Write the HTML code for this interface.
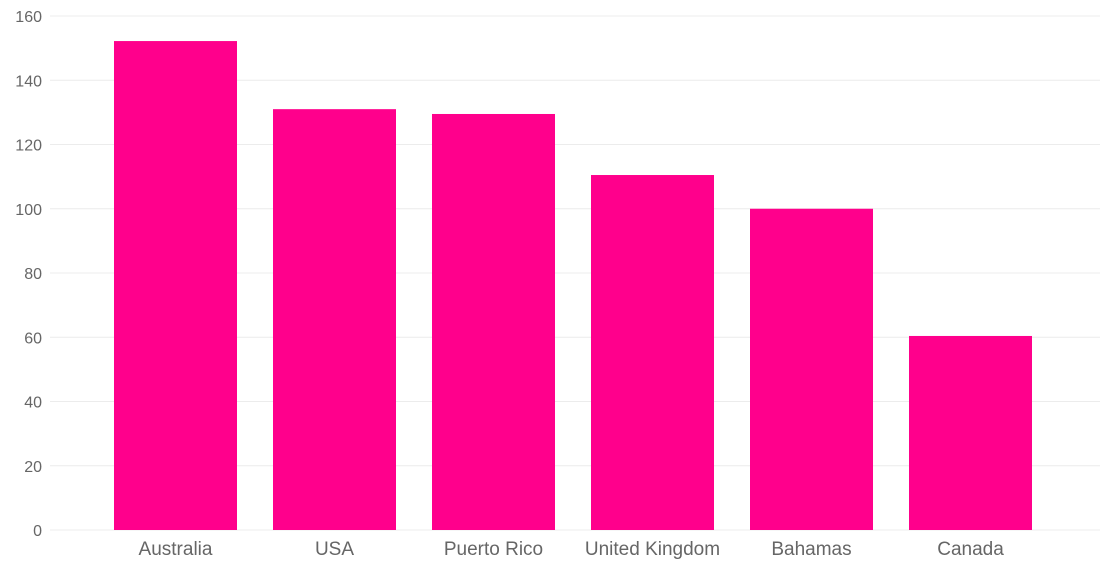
<!DOCTYPE html>
<html><head><meta charset="utf-8"><style>
html,body{margin:0;padding:0;background:#fff;}
svg{display:block;font-family:"Liberation Sans","DejaVu Sans",sans-serif;}
</style></head><body>
<svg id="chart" width="1105" height="576"></svg>
<script>
const categories=["Australia","USA","Puerto Rico","United Kingdom","Bahamas","Canada"];
const values=[152.2,131,129.5,110.5,100,60.4];
const yTicks=[0,20,40,60,80,100,120,140,160];
const svg=document.getElementById('chart');
const NS='http://www.w3.org/2000/svg';
const y0=530,y1=16,yMax=160;
function y(v){return y0-(v/yMax)*(y0-y1);}
const bandStart=96,step=159,barW=123;
function xb(i){return bandStart+i*step+(step-barW)/2;}
function mk(t,a){const e=document.createElementNS(NS,t);for(const k in a)e.setAttribute(k,a[k]);svg.appendChild(e);return e;}
yTicks.forEach(t=>{
 const g=mk('line',{x1:50,x2:1100,y1:y(t),y2:y(t),stroke:'#ececec','stroke-width':1});
 
 
 const l=mk('text',{x:42,y:y(t)+6,'text-anchor':'end','font-size':16,fill:'#666'});
 l.textContent=t;
 
 
});
categories.forEach((c,i)=>{
 const r=mk('rect',{x:xb(i),y:y(values[i]),width:barW,height:y0-y(values[i]),fill:'#ff008c'});
 
 
 const l=mk('text',{x:xb(i)+barW/2,y:555,'text-anchor':'middle','font-size':19,fill:'#666'});
 l.textContent=c;
 
 
});
</script>
</body></html>
